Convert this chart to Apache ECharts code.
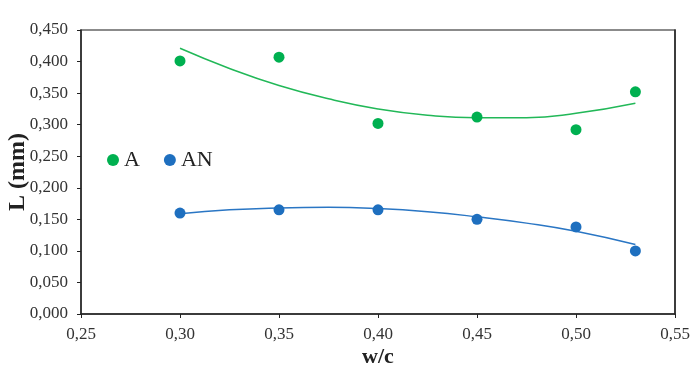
<!DOCTYPE html>
<html><head><meta charset="utf-8">
<script src="https://cdn.jsdelivr.net/npm/echarts@6/dist/echarts.min.js"></script>
<style>html,body{margin:0;padding:0;background:#fff}#c{width:695px;height:391px}</style>
</head><body><div id="c"></div>
<script>
const wc = [0.30, 0.35, 0.40, 0.45, 0.50, 0.53];
const valuesA = [0.401, 0.407, 0.302, 0.312, 0.292, 0.352];
const valuesAN = [0.160, 0.165, 0.165, 0.150, 0.138, 0.100];
const trendX = [0.30, 0.325, 0.35, 0.375, 0.40, 0.425, 0.45, 0.475, 0.50, 0.53];
const trendA = [0.421, 0.389, 0.362, 0.341, 0.325, 0.315, 0.311, 0.311, 0.318, 0.334];
const trendAN = [0.159, 0.165, 0.168, 0.169, 0.167, 0.162, 0.154, 0.144, 0.131, 0.110];
const seriesNames = ['A', 'AN'];
const font = 'Liberation Serif, Times New Roman, serif';
const green = '#00B050', blue = '#1E6FBF';
const pair = (xs, ys) => xs.map((x, i) => [x, ys[i]]);
const chart = echarts.init(document.getElementById('c'));
chart.setOption({
  animation: false,
  grid: { left: 81, right: 20, top: 30, bottom: 77, show: true, borderColor: '#666', borderWidth: 1.5, outerBoundsMode: 'none', containLabel: false },
  legend: {
    data: seriesNames, left: 102, top: 144, itemGap: 24, itemWidth: 12, itemHeight: 12,
    icon: 'circle', textStyle: { fontFamily: font, fontSize: 22, color: '#222' }
  },
  xAxis: [{
    type: 'value', min: 0.25, max: 0.55, interval: 0.05,
    name: 'w/c', nameLocation: 'middle', nameGap: 32, nameMoveOverlap: false,
    nameTextStyle: { fontFamily: font, fontSize: 22, fontWeight: 'bold', color: '#222' },
    axisLine: { show: true, lineStyle: { color: '#222', width: 1.5 } },
    axisTick: { show: true, length: 4, lineStyle: { color: '#222' } },
    axisLabel: { fontFamily: font, fontSize: 17, color: '#333', margin: 12, formatter: v => v.toFixed(2).replace('.', ',') },
    splitLine: { show: false }
  }],
  yAxis: [{
    type: 'value', min: 0, max: 0.45, interval: 0.05,
    name: 'L (mm)', nameLocation: 'middle', nameGap: 51, nameMoveOverlap: false,
    nameTextStyle: { fontFamily: font, fontSize: 24, fontWeight: 'bold', color: '#222' },
    axisLine: { show: true, lineStyle: { color: '#222', width: 1.5 } },
    axisTick: { show: true, length: 4, lineStyle: { color: '#222' } },
    axisLabel: { fontFamily: font, fontSize: 17, color: '#333', margin: 13, formatter: v => v.toFixed(3).replace('.', ',') },
    splitLine: { show: false }
  }, {
    type: 'value', min: 0, max: 0.45, interval: 0.05, position: 'right',
    axisLine: { show: true, lineStyle: { color: '#222', width: 1.5 } },
    axisTick: { show: false }, axisLabel: { show: false }, splitLine: { show: false }
  }],
  series: [
    { name: 'A', type: 'scatter', data: pair(wc, valuesA), symbolSize: 11, itemStyle: { color: green, opacity: 1 }, z: 3 },
    { name: 'AN', type: 'scatter', data: pair(wc, valuesAN), symbolSize: 11, itemStyle: { color: blue, opacity: 1 }, z: 3 },
    { name: 'A trend', type: 'line', data: pair(trendX, trendA), smooth: true, showSymbol: false, lineStyle: { color: '#22B858', width: 1.5 }, z: 2 },
    { name: 'AN trend', type: 'line', data: pair(trendX, trendAN), smooth: true, showSymbol: false, lineStyle: { color: '#2A76C4', width: 1.5 }, z: 2 }
  ]
});
</script></body></html>
